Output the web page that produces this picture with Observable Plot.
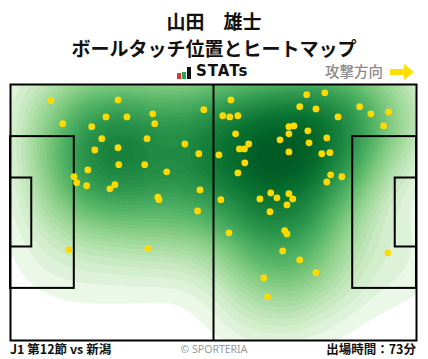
<!DOCTYPE html>
<html><head><meta charset="utf-8">
<script src="https://cdn.jsdelivr.net/npm/d3@7"></script>
<script src="https://cdn.jsdelivr.net/npm/@observablehq/plot@0.6"></script>
<style>
body{margin:0;background:#fff;font-family:"Noto Sans CJK JP","Noto Sans",sans-serif;}
#wrap{position:relative;width:428px;height:359px;overflow:hidden;}
.t{position:absolute;white-space:nowrap;}
#chart{position:absolute;left:0;top:83px;}
</style></head><body><div id="wrap"></div>
<script>
// ---- text ----
const playerName = "山田　雄士";
const chartTitle = "ボールタッチ位置とヒートマップ";
const brand = "STATs";
const attackLabel = "攻撃方向";
const matchLabel = "J1 第12節 vs 新潟";
const credit = "© SPORTERIA";
const minutesLabel = "出場時間：73分";

// ---- pitch (metres) ----
const pitchLength = 105, pitchWidth = 68;
const boxX1 = [0, 88.5, 0, 99.5], boxX2 = [16.5, 105, 5.5, 105];
const boxY1 = [13.84, 13.84, 24.84, 24.84], boxY2 = [54.16, 54.16, 43.16, 43.16];

// ---- ball touches (x along pitch, y from top side, metres) ----
const touchX = [10.4,27.8,13.5,24.7,30.1,21.0,23.6,35.3,27.8,21.8,20.0,28.0,34.7,16.4,17.1,19.7,27.0,25.7,
  36.8,37.3,50.0,45.1,48.7,40.4,49.0,38.1,38.4,57.0,54.9,56.7,58.8,58.2,69.7,59.2,60.5,61.6,53.9,60.6,58.8,
  54.4,64.5,67.3,68.9,76.6,81.3,74.8,79.0,84.7,90.3,93.2,97.8,96.5,72.0,73.3,72.0,76.9,77.2,81.8,72.0,80.5,
  82.6,82.8,81.8,85.7,72.0,73.0,71.5,70.9,71.5,70.4,74.8,79.0,97.6,48.4,35.5,67.1,56.5,65.5,66.5,15.1];
const touchY = [4.3,4.1,10.4,8.6,8.6,11.2,14.4,14.4,16.8,17.4,22.7,21.3,21.3,24.5,26.1,26.9,26.6,27.7,
  7.8,10.4,6.7,15.8,18.4,23.2,28.0,29.9,30.6,4.1,8.3,8.6,8.3,13.1,14.7,17.1,17.1,15.8,18.7,20.8,23.5,
  30.6,30.4,28.8,30.1,2.7,2.2,5.9,6.5,8.6,5.9,7.8,7.3,11.0,11.2,11.0,13.1,12.3,15.5,14.2,17.9,18.4,
  18.1,24.0,25.9,24.5,29.0,30.4,32.0,38.8,39.7,44.2,46.6,50.0,44.7,33.6,43.6,33.8,39.4,51.4,56.4,43.9];

const touches = touchX.map((x, i) => ({x, y: touchY[i]}));
const boxes = boxX1.map((x1, i) => ({x1, x2: boxX2[i], y1: boxY1[i], y2: boxY2[i]}));

const wrap = document.getElementById("wrap");
function addText(txt, style) {
  const d = document.createElement("div");
  d.className = "t"; d.textContent = txt; d.setAttribute("style", style);
  wrap.appendChild(d);
  return d;
}
addText(playerName, "left:0;width:428px;top:6.5px;text-align:center;font-weight:700;font-size:19px;line-height:28px;color:#111;");
addText(chartTitle, "left:0;width:428px;top:34.3px;text-align:center;font-weight:700;font-size:19px;line-height:28px;color:#111;");

// STATs logo
const logo = document.createElement("div");
logo.className = "t";
logo.setAttribute("style", "left:177px;top:63px;height:18px;display:flex;align-items:flex-end;gap:1px;");
[["#e8303a",6],["#27a84a",7],["#111",12]].forEach(([c,h]) => {
  const b = document.createElement("div");
  b.setAttribute("style", `width:4px;height:${h}px;background:${c};margin-bottom:2px;`);
  logo.appendChild(b);
});
wrap.appendChild(logo);
addText(brand, "left:196px;top:61px;font-family:'DejaVu Sans',sans-serif;font-weight:700;font-size:15px;line-height:20px;letter-spacing:1px;color:#111;");
addText(attackLabel, "left:325px;top:61px;font-size:14.5px;line-height:20px;color:#8a8a8a;font-weight:500;");
// arrow
const arr = document.createElementNS("http://www.w3.org/2000/svg","svg");
arr.setAttribute("width","26"); arr.setAttribute("height","18");
arr.setAttribute("style","position:absolute;left:389px;top:63px;");
arr.innerHTML = '<polygon points="1,6 15,6 15,1 25,9 15,17 15,12 1,12" fill="#ffdf00"/>';
wrap.appendChild(arr);

const cut = 0.13;
const chart = Plot.plot({
  width: 428, height: 259,
  marginLeft: 10, marginRight: 12, marginTop: 1, marginBottom: 2,
  x: {domain: [0, pitchLength], axis: null},
  y: {domain: [0, pitchWidth], reverse: true, axis: null},
  color: {type: "pow", exponent: 0.5,
    interpolate: t => t < cut ? "#ffffff" : d3.interpolateGreens(0.05 + 0.88 * (t - cut) / (1 - cut))},
  marks: [
    Plot.density(touches, {x: "x", y: "y", fill: "density", stroke: "none", bandwidth: 35, thresholds: 40, clip: true}),
    Plot.rect(boxes, {x1: "x1", x2: "x2", y1: "y1", y2: "y2", stroke: "#000", strokeWidth: 2, fill: "none"}),
    Plot.ruleX([pitchLength / 2], {y1: 0, y2: pitchWidth, stroke: "#000", strokeWidth: 2}),
    Plot.dot(touches, {x: "x", y: "y", r: 3.4, fill: "#ffd900", stroke: "none"}),
    Plot.frame({stroke: "#000", strokeWidth: 2})
  ]
});
chart.id = "chart";
wrap.appendChild(chart);

addText(matchLabel, "left:10px;top:340px;font-weight:700;font-size:12.5px;line-height:18px;color:#111;");
addText(credit, "left:0;width:428px;top:341px;text-align:center;font-family:'Noto Sans',sans-serif;font-size:10.5px;line-height:16px;color:#999;");
addText(minutesLabel, "right:12px;top:340px;font-weight:700;font-size:12.5px;line-height:18px;color:#111;");
</script></body></html>
